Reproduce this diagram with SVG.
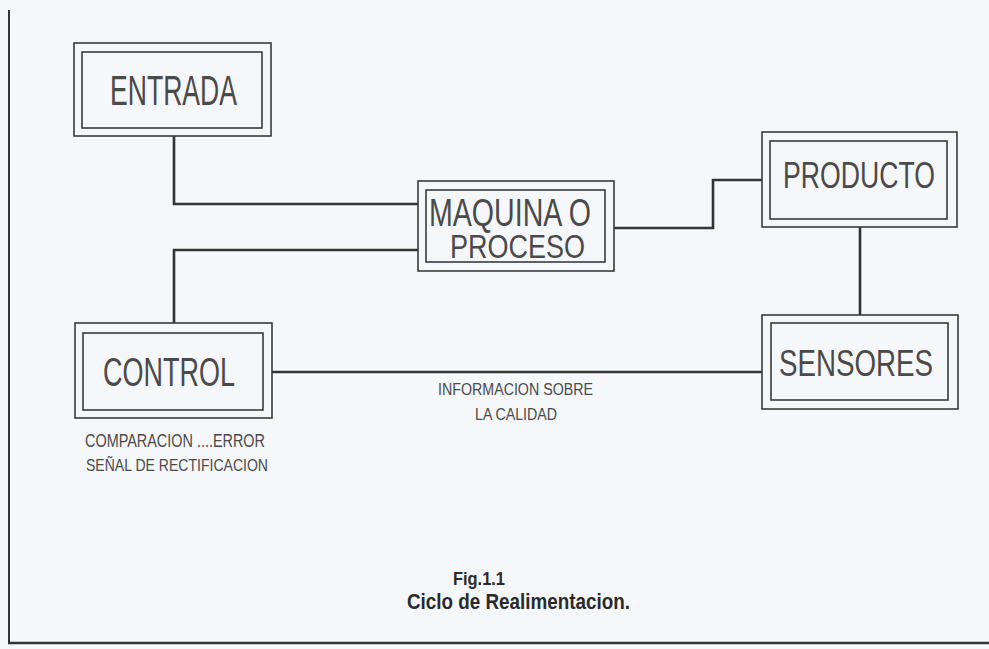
<svg xmlns="http://www.w3.org/2000/svg" width="989" height="649" viewBox="0 0 989 649">
<style>
.bx{fill:none;stroke:#3a3a3a;stroke-width:1.6}
.cn{fill:none;stroke:#333;stroke-width:2.6}
.t{font-family:"Liberation Sans","DejaVu Sans",sans-serif;fill:#4a4a4a;font-weight:normal}
.cap{font-family:"Liberation Sans Narrow","Liberation Sans",sans-serif;fill:#2a2a2a;font-weight:bold}
</style>
<rect x="0" y="0" width="989" height="649" fill="#f6f7fa"/>
<g id="frame">
<line x1="9" y1="10" x2="9" y2="643" stroke="#333" stroke-width="2"/>
<line x1="8" y1="643" x2="989" y2="643" stroke="#333" stroke-width="2.5"/>
</g>
<g id="connectors">
<polyline class="cn" points="174,136 174,204 418,204"/>
<polyline class="cn" points="418,250 174,250 174,323"/>
<polyline class="cn" points="614,228 713,228 713,180 762,180"/>
<line class="cn" x1="860" y1="227" x2="860" y2="315"/>
<line class="cn" x1="272" y1="372" x2="762" y2="372"/>
</g>
<g id="entrada">
<rect class="bx" x="74" y="43" width="197" height="93"/>
<rect class="bx" x="82" y="52" width="180" height="76"/>
<text class="t" x="110" y="105" font-size="42" textLength="127" lengthAdjust="spacingAndGlyphs">ENTRADA</text>
</g>
<g id="maquina">
<rect class="bx" x="418" y="181" width="196" height="90"/>
<rect class="bx" x="426" y="190" width="179" height="72"/>
<text class="t" x="429" y="226" font-size="38" textLength="162" lengthAdjust="spacingAndGlyphs">MAQUINA O</text>
<text class="t" x="450" y="258" font-size="34" textLength="135" lengthAdjust="spacingAndGlyphs">PROCESO</text>
</g>
<g id="producto">
<rect class="bx" x="762" y="132" width="195" height="95"/>
<rect class="bx" x="770" y="141" width="177" height="78"/>
<text class="t" x="783" y="188" font-size="37" textLength="152" lengthAdjust="spacingAndGlyphs">PRODUCTO</text>
</g>
<g id="sensores">
<rect class="bx" x="762" y="315" width="196" height="94"/>
<rect class="bx" x="771" y="323" width="177" height="77"/>
<text class="t" x="779" y="376" font-size="37" textLength="154" lengthAdjust="spacingAndGlyphs">SENSORES</text>
</g>
<g id="control">
<rect class="bx" x="75" y="323" width="197" height="95"/>
<rect class="bx" x="83" y="333" width="180" height="77"/>
<text class="t" x="103" y="386" font-size="41" textLength="132" lengthAdjust="spacingAndGlyphs">CONTROL</text>
<text class="t" x="85" y="447" font-size="18" textLength="180" lengthAdjust="spacingAndGlyphs">COMPARACION ....ERROR</text>
<text class="t" x="86" y="471" font-size="17" textLength="182" lengthAdjust="spacingAndGlyphs">SEÑAL DE RECTIFICACION</text>
</g>
<g id="info">
<text class="t" x="438" y="395" font-size="16" textLength="155" lengthAdjust="spacingAndGlyphs">INFORMACION SOBRE</text>
<text class="t" x="475" y="420" font-size="16" textLength="82" lengthAdjust="spacingAndGlyphs">LA CALIDAD</text>
</g>
<g id="caption">
<text class="cap" x="479" y="585" font-size="19" text-anchor="middle" textLength="52" lengthAdjust="spacingAndGlyphs">Fig.1.1</text>
<text class="cap" x="407" y="609" font-size="22" textLength="223" lengthAdjust="spacingAndGlyphs">Ciclo de Realimentacion.</text>
</g>
</svg>
